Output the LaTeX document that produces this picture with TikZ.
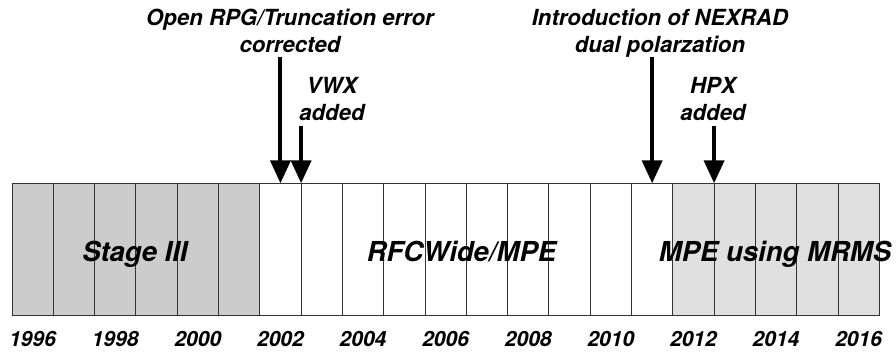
\documentclass[tikz,border=0pt]{standalone}
\usepackage{fontspec}
\setmainfont{TeX Gyre Heros}
\usetikzlibrary{arrows.meta}

\definecolor{stagegray}{RGB}{204,204,204}
\definecolor{mrmsgray}{RGB}{224,224,224}

\tikzset{
  yearcell/.style={draw=black!80, line width=0.9pt, minimum width=41.3pt,
    minimum height=131.7pt, anchor=south west, inner sep=0pt, outer sep=0pt},
  yearlabel/.style={anchor=base, inner sep=0pt,
    font=\fontsize{21}{21}\selectfont\bfseries\itshape},
  eralabel/.style={anchor=base, inner sep=0pt,
    font=\fontsize{27.5}{27.5}\selectfont\bfseries\itshape},
  eventlabel/.style={anchor=base, inner sep=0pt, align=center,
    font=\fontsize{22.2}{27}\selectfont\bfseries\itshape},
  eventarrow/.style={line width=4pt, -{Triangle[width=20pt,length=23pt]}, shorten >=0pt}
}

\begin{document}
\begin{tikzpicture}[x=1pt,y=1pt]
\useasboundingbox (0,0) rectangle (896,351);

% one cell per year, 1996 to 2016
\foreach \yr in {1996,...,2016}{
  \pgfmathsetmacro{\xl}{12+41.3*(\yr-1996)}
  \ifnum\yr<2002
    \def\cellfill{stagegray}
  \else\ifnum\yr<2012
    \def\cellfill{white}
  \else
    \def\cellfill{mrmsgray}
  \fi\fi
  \node[yearcell, fill=\cellfill] (y\yr) at (\xl,36) {};
}

% year labels under every other cell
\foreach \yr in {1996,1998,...,2016}{
  \node[yearlabel] (lab\yr) at ([yshift=-31.7pt]y\yr.south) {\yr};
}

% era names
\node[eralabel] (stage) at (135,89.3) {Stage III};
\node[eralabel] (rfcwide) at (461.5,89.3) {RFCWide/MPE};
\node[eralabel] (mrms) at (775,89.3) {MPE using MRMS};

% events (base anchor sits on the last line)
\node[eventlabel] (trunc) at (290,298) {Open RPG/Truncation error\\corrected};
\node[eventlabel] (vwx) at (332,230) {VWX\\added};
\node[eventlabel] (dualpol) at (660,298) {Introduction of NEXRAD\\dual polarzation};
\node[eventlabel] (hpx) at (713,230) {HPX\\added};

\coordinate (truncstart) at (y2002.north |- 0,294);
\coordinate (vwxstart) at (y2002.north east |- 0,225);
\coordinate (dualpolstart) at (y2011.north |- 0,294);
\coordinate (hpxstart) at (y2012.north east |- 0,225);

\draw[eventarrow] (truncstart) -- (y2002.north);
\draw[eventarrow] (vwxstart) -- (y2002.north east);
\draw[eventarrow] (dualpolstart) -- (y2011.north);
\draw[eventarrow] (hpxstart) -- (y2012.north east);
\end{tikzpicture}
\end{document}
